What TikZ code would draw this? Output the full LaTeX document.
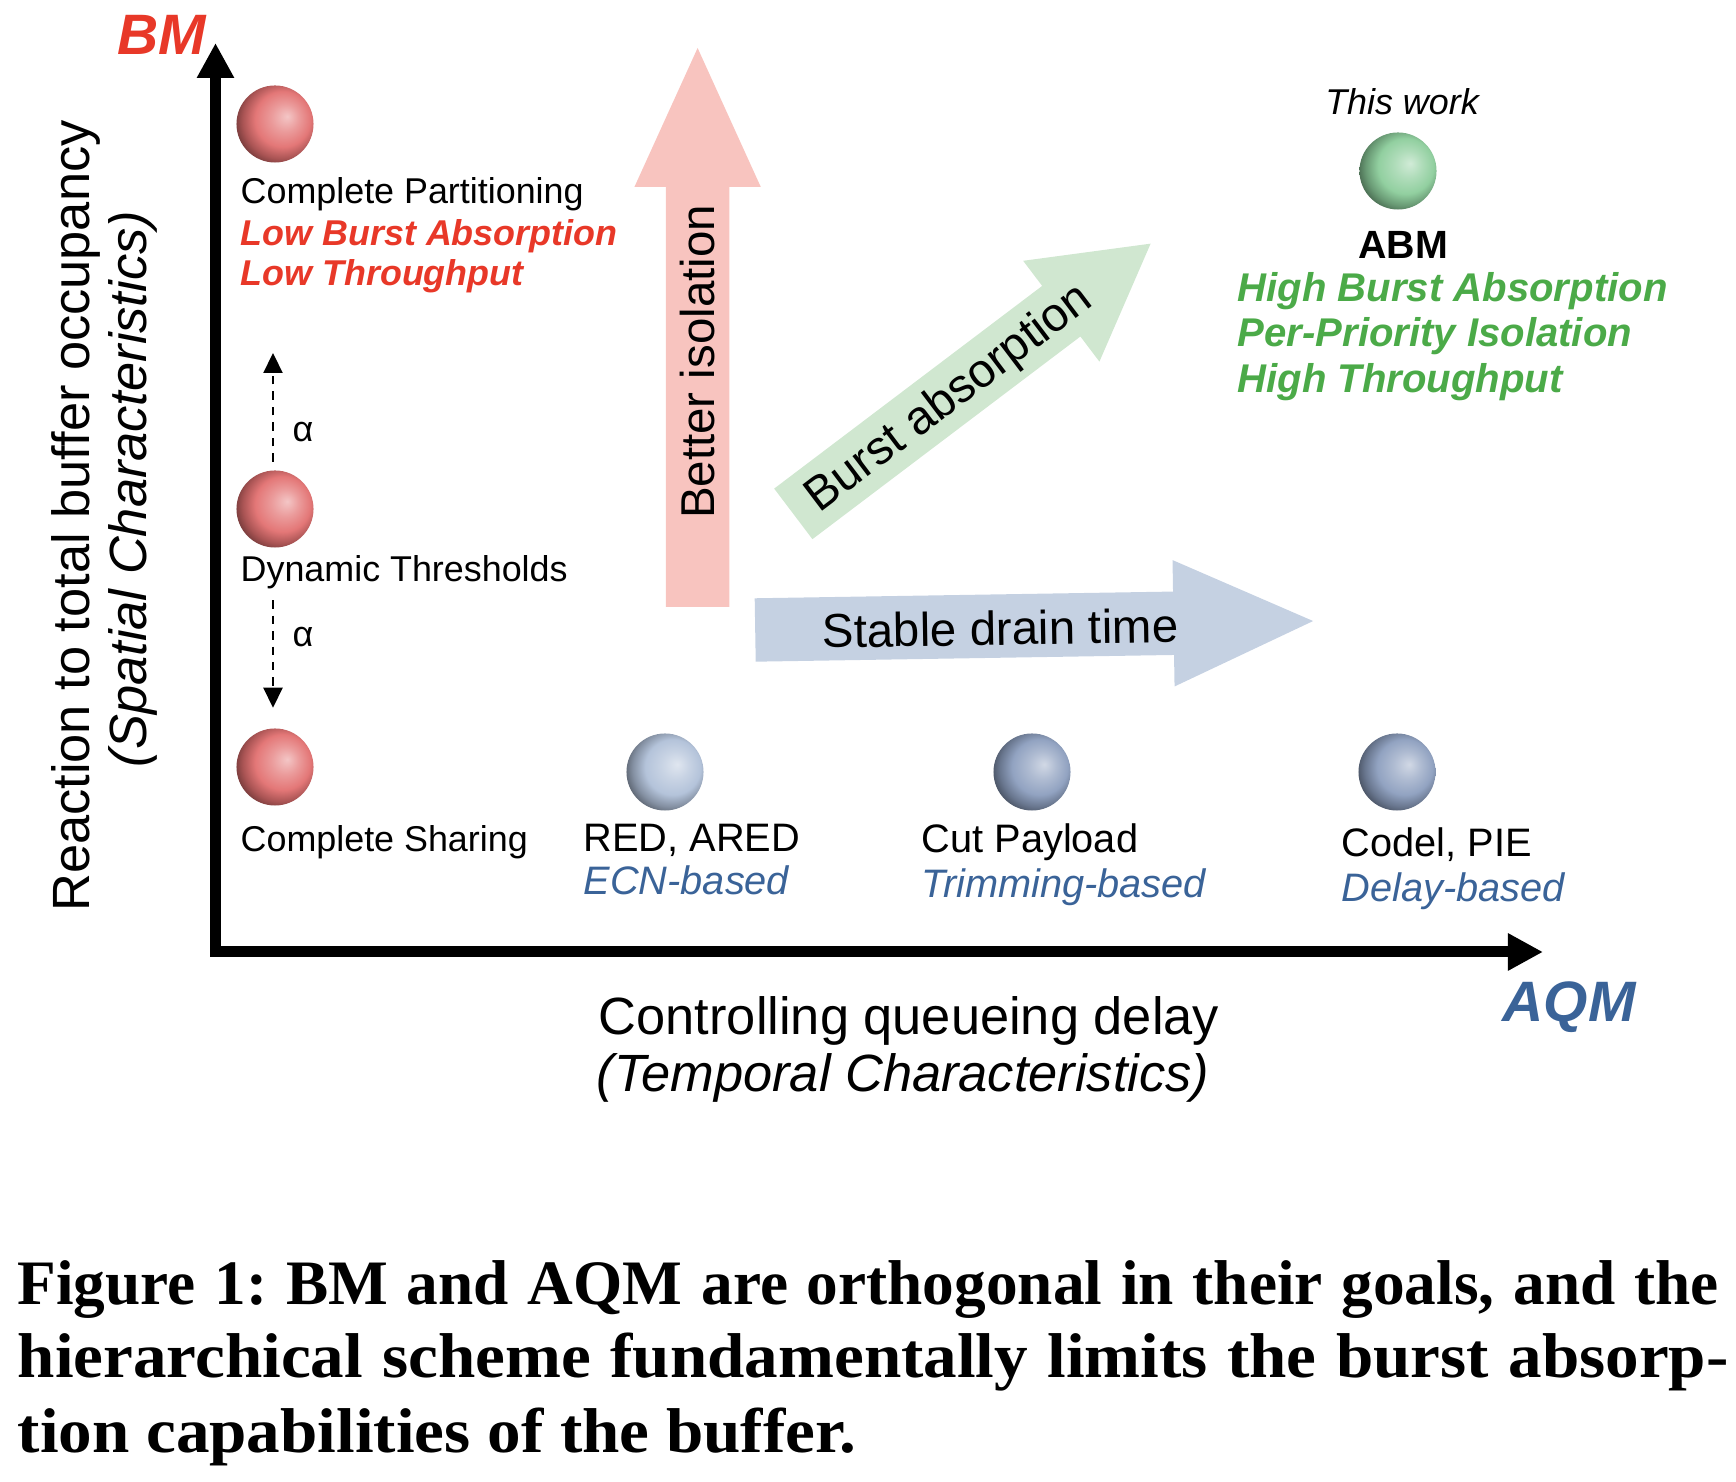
\documentclass[tikz,border=0pt]{standalone}
\usepackage{fontspec}
\setmainfont{Liberation Sans}
\newfontfamily\capfont{Liberation Serif}
\usetikzlibrary{arrows.meta,positioning,calc}

\definecolor{bmred}{RGB}{232,56,40}
\definecolor{aqmblue}{RGB}{58,99,152}
\definecolor{abmgreen}{RGB}{75,170,72}
\definecolor{isofill}{RGB}{248,196,191}
\definecolor{burstfill}{RGB}{208,231,208}
\definecolor{drainfill}{RGB}{197,209,226}
\definecolor{orbred}{RGB}{226,112,112}
\definecolor{orbpale}{RGB}{176,192,216}
\definecolor{orbblue}{RGB}{140,158,190}
\definecolor{orbgreen}{RGB}{140,205,155}

% sphere shading, light from the right
\colorlet{ballc}{orbred}
\pgfdeclareradialshading[ballc]{orbshade}{\pgfpoint{8bp}{5bp}}{%
  color(0bp)=(ballc!40!white); color(9bp)=(ballc!70!white);
  color(18bp)=(ballc!95!white); color(25bp)=(ballc!75!black);
  color(32bp)=(ballc!40!black); color(50bp)=(ballc!35!black)}

\tikzset{
  orbcol/.code={\colorlet{ballc}{#1}},
  orb/.style={circle, inner sep=0pt, minimum size=0.77cm, orbcol=#1, shading=orbshade},
  axisline/.style={line width=0.11cm,
    {Triangle[length=0.35cm,width=0.35cm]}-{Triangle[length=0.35cm,width=0.35cm]}},
  alphaarr/.style={-{Triangle[length=0.2cm,width=0.19cm]}, line width=0.6pt,
    dash pattern=on 2.4pt off 2pt},
  lbl/.style={inner sep=0pt, anchor=base west, font=\fontsize{10.2}{12}\selectfont},
  tech/.style={inner sep=0pt, anchor=base west, font=\fontsize{11.3}{13}\selectfont},
  techsub/.style={tech, text=aqmblue, font=\fontsize{11.3}{13}\selectfont\itshape},
  bmbad/.style={lbl, text=bmred, font=\fontsize{10.2}{12}\selectfont\bfseries\itshape},
  abmgood/.style={inner sep=0pt, anchor=base west, text=abmgreen,
    font=\fontsize{11.4}{13}\selectfont\bfseries\itshape},
  axlbl/.style={inner sep=0pt, anchor=base, font=\fontsize{14.9}{18}\selectfont},
  biglbl/.style={inner sep=0pt, font=\fontsize{13.5}{16}\selectfont},
  axname/.style={inner sep=0pt, anchor=base, font=\fontsize{16.2}{19}\selectfont\bfseries\itshape},
  capline/.style={inner sep=0pt, anchor=base west,
    font=\capfont\bfseries\fontsize{18}{20}\selectfont\frenchspacing}
}

\begin{document}
\begin{tikzpicture}[x=0.01cm,y=0.01cm]
  \useasboundingbox (0,0) rectangle (1736,1482);

  % axes
  \coordinate (origin) at (215.5,530);
  \coordinate (ytip) at (215.5,1439);
  \coordinate (xtip) at (1543,530);
  \draw[axisline] (ytip) -- (origin) -- (xtip);
  \node[axname, text=bmred] (bm) at (161.5,1427) {BM};
  \node[axname, text=aqmblue] (aqm) at (1569,460) {AQM};
  \node[axlbl, rotate=90] (ylab) at (89,966) {Reaction to total buffer occupancy};
  \node[axlbl, rotate=90, font=\fontsize{14.9}{18}\selectfont\itshape] (ylab2) at (147,993) {(Spatial Characteristics)};
  \node[axlbl] (xlab) at (909,447) {Controlling queueing delay};
  \node[axlbl, font=\fontsize{14.9}{18}\selectfont\itshape] (xlab2) at (903,390) {(Temporal Characteristics)};

  % big arrows
  \begin{scope}[shift={(697.6,875)}, rotate=90]
    \fill[isofill] (0,-31.7) -- (420,-31.7) -- (420,-63.2) -- (559,0) -- (420,63.2) -- (420,31.7) -- (0,31.7) -- cycle;
    \node[biglbl, rotate=90] (iso) at (245,0) {Better isolation};
  \end{scope}
  \begin{scope}[shift={(793.3,968.1)}, rotate=37.1]
    \fill[burstfill] (0,-31.7) -- (336,-31.7) -- (336,-63.2) -- (448,0) -- (336,63.2) -- (336,31.7) -- (0,31.7) -- cycle;
    \node[biglbl, rotate=37.1] (burst) at (194,-3) {Burst absorption};
  \end{scope}
  \begin{scope}[shift={(755.2,852)}, rotate=0.92]
    \fill[drainfill] (0,-31.7) -- (418.4,-31.7) -- (418.4,-63.2) -- (558,0) -- (418.4,63.2) -- (418.4,31.7) -- (0,31.7) -- cycle;
    \node[biglbl, rotate=0.92] (drain) at (245,-2) {Stable drain time};
  \end{scope}

  % BM schemes
  \node[orb=orbred] (cp) at (275,1358) {};
  \node[lbl] (cplbl) at (240,1278) {Complete Partitioning};
  \node[bmbad] (cpbad1) at (240,1236) {Low Burst Absorption};
  \node[bmbad] (cpbad2) at (240,1196) {Low Throughput};
  \node[orb=orbred] (dt) at (275,973) {};
  \node[lbl] (dtlbl) at (240,900) {Dynamic Thresholds};
  \node[orb=orbred] (cs) at (275,715) {};
  \node[lbl] (cslbl) at (240,630) {Complete Sharing};

  % alpha
  \coordinate (atop) at (273,1129);
  \draw[alphaarr] ($(dt.north)+(-2,8)$) -- (atop);
  \draw[alphaarr] ($(dtlbl.south -| dt)+(-2,-10)$) -- ($(cs.north)+(-2,20)$);
  \node[lbl, anchor=center] (alpha1) at (303,1050) {α};
  \node[lbl, anchor=center] (alpha2) at (303,845) {α};

  % AQM schemes
  \node[orb=orbpale] (red) at (665,710) {};
  \node[tech] (redlbl) at (583,630) {RED, ARED};
  \node[techsub] (ecn) at (583,587) {ECN-based};
  \node[orb=orbblue] (cut) at (1032,710) {};
  \node[tech] (cutlbl) at (921,629) {Cut Payload};
  \node[techsub] (trim) at (921,584) {Trimming-based};
  \node[orb=orbblue] (codel) at (1397,710) {};
  \node[tech] (codellbl) at (1341,625) {Codel, PIE};
  \node[techsub] (delay) at (1341,580) {Delay-based};

  % this work
  \node[lbl, anchor=base, font=\fontsize{10.2}{12}\selectfont\itshape] (thiswork) at (1402,1367) {This work};
  \node[orb=orbgreen] (abm) at (1398,1311) {};
  \node[tech, anchor=base, font=\fontsize{11.2}{13}\selectfont\bfseries] (abmlbl) at (1403,1223) {ABM};
  \node[abmgood] (abm1) at (1237,1180) {High Burst Absorption};
  \node[abmgood] (abm2) at (1237,1135) {Per-Priority Isolation};
  \node[abmgood] (abm3) at (1237,1089) {High Throughput};

  % caption
  \node[capline] (cap1) at (17,177) {\makebox[17cm][s]{Figure 1: BM and AQM are orthogonal in their goals, and the}};
  \node[capline] (cap2) at (17,104) {\scalebox{1.06}[1]{\makebox[16.13cm][s]{hierarchical scheme fundamentally limits the burst absorp-}}};
  \node[capline] (cap3) at (17,29) {\scalebox{1.06}[1]{tion capabilities of the buffer.}};
\end{tikzpicture}
\end{document}
